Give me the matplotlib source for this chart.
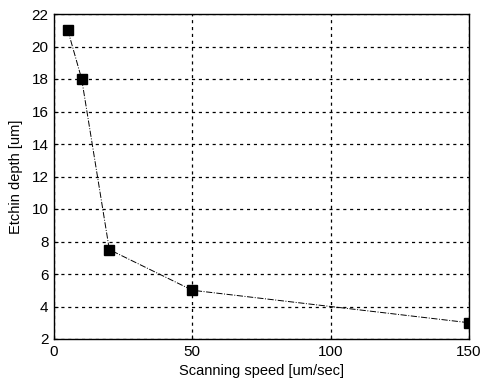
import matplotlib
matplotlib.use("Agg")
import matplotlib.pyplot as plt

plt.rcParams["font.family"] = ["Liberation Sans", "DejaVu Sans"]

speed = [5, 10, 20, 50, 150]
depth = [21, 18, 7.5, 5, 3]
xticks = [0, 50, 100, 150]
yticks = [2, 4, 6, 8, 10, 12, 14, 16, 18, 20, 22]

fig = plt.figure(figsize=(4.84, 3.83), dpi=100)
ax = fig.add_axes([54/484, 44/383, 415/484, 325/383])
ax.plot(speed, depth, color="black", linestyle="-.", linewidth=0.7,
        marker="s", markersize=7.5, markerfacecolor="black", markeredgecolor="black")
ax.set_xlim(0, 150)
ax.set_ylim(2, 22)
ax.set_xticks(xticks)
ax.set_yticks(yticks)
ax.grid(True, color="black", linestyle=(0, (2.5, 3)), linewidth=0.9)
ax.tick_params(direction="in", length=3, labelsize=11, pad=4)
for s in ax.spines.values():
    s.set_linewidth(1.0)
ax.set_xlabel("Scanning speed [um/sec]", fontsize=10.5, labelpad=4)
ax.set_ylabel("Etchin depth [um]", fontsize=10.5, labelpad=6)
fig.savefig("out.png", dpi=100)
